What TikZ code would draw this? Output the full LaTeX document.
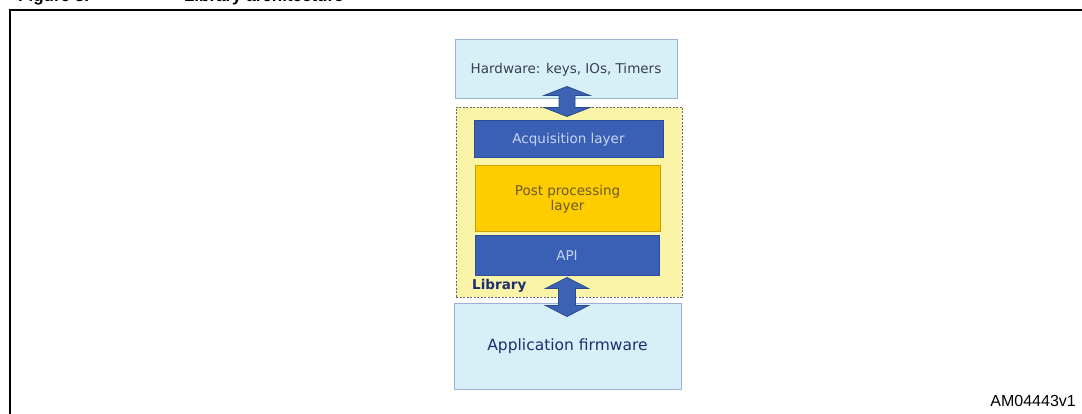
\documentclass[tikz,border=0pt]{standalone}
\usepackage{fontspec}
\setmainfont{DejaVu Sans}
\newfontfamily\arial{Liberation Sans}
\usetikzlibrary{calc}
\definecolor{hwfill}{HTML}{D7EFF7}
\definecolor{hwdraw}{HTML}{9AB3CE}
\definecolor{libfill}{HTML}{FAF4A8}
\definecolor{libdraw}{HTML}{6A6A6A}
\definecolor{layblue}{HTML}{3A60B5}
\definecolor{layedge}{HTML}{2D4D98}
\definecolor{laytext}{HTML}{C5D3F0}
\definecolor{gold}{HTML}{FFCC00}
\definecolor{goldedge}{HTML}{C9A100}
\definecolor{posttext}{HTML}{6B5A2A}
\definecolor{navy}{HTML}{1E2D6E}
\definecolor{hwtext}{HTML}{3A3F55}
\definecolor{arrfill}{HTML}{3C62B4}
\definecolor{arredge}{HTML}{2B4A90}
\tikzset{
  outerbox/.style={draw=hwdraw, fill=hwfill, line width=1pt, inner sep=0pt, align=center},
  libbox/.style={draw=libdraw, fill=libfill, dashed, dash pattern=on 2pt off 1.5pt, line width=0.8pt, inner sep=0pt},
  bluelayer/.style={draw=layedge, fill=layblue, line width=1pt, inner sep=0pt, text=laytext, font=\fontsize{13.5}{15}\selectfont},
  goldlayer/.style={draw=goldedge, fill=gold, line width=1pt, inner sep=0pt, text=posttext, align=center, font=\fontsize{13.5}{15}\selectfont},
  dblarrow/.style={draw=arredge, fill=arrfill, line width=0.8pt, line join=miter},
}
\begin{document}
\begin{tikzpicture}[x=1pt, y=-1pt]
\useasboundingbox (0,0) rectangle (1082,414);
\clip (0,0) rectangle (1082,414);
\fill[white] (0,0) rectangle (1082,414);
% title (cut off at top, as in the reference)
\node[anchor=base west, inner sep=0pt, font=\arial\bfseries\fontsize{17}{20}\selectfont] (title) at (18,1.5) {Figure 3.\hspace{95pt}Library architecture};
% frame
\draw[line width=2pt] (10,10) rectangle (1100,430);
% boxes
\node[outerbox, minimum width=222, minimum height=59, text=hwtext, font=\fontsize{13.5}{15}\selectfont] (hw) at (566,69.5) {Hardware: keys, IOs, Timers};
\node[libbox, minimum width=226, minimum height=190] (lib) at (569,202) {};
\node[bluelayer, minimum width=189, minimum height=37] (acq) at (568.5,139.5) {Acquisition layer};
\node[goldlayer, minimum width=185, minimum height=66] (post) at (567.5,199) {Post processing\\layer};
\node[bluelayer, minimum width=184, minimum height=40] (api) at (567,256) {API};
\node[anchor=base west, inner sep=0pt, text=navy, font=\bfseries\fontsize{13.5}{15}\selectfont] (libl) at (472,290) {Library};
\node[outerbox, minimum width=227, minimum height=86, text=navy, font=\fontsize{15.5}{18}\selectfont] (app) at (567.5,346) {Application firmware};
\node[anchor=base east, inner sep=0pt, font=\arial\fontsize{16}{19}\selectfont] (ref) at (1076,406) {AM04443v1};
% arrows
\coordinate (t1) at ($(hw.south)+(1,-13)$);
\coordinate (b1) at ($(t1 |- acq.north)+(0,-4)$);
\draw[dblarrow] (t1) -- ($(t1)+(23,9)$) -- ($(t1)+(8,9)$) -- ($(b1)+(8,-9)$) -- ($(b1)+(23,-9)$) -- (b1) -- ($(b1)+(-23,-9)$) -- ($(b1)+(-8,-9)$) -- ($(t1)+(-8,9)$) -- ($(t1)+(-23,9)$) -- cycle;
\coordinate (t2) at ($(api.south)+(0,1)$);
\coordinate (b2) at ($(t2 |- app.north)+(0,14)$);
\draw[dblarrow] (t2) -- ($(t2)+(21.5,11)$) -- ($(t2)+(8.5,11)$) -- ($(b2)+(8.5,-11)$) -- ($(b2)+(21.5,-11)$) -- (b2) -- ($(b2)+(-21.5,-11)$) -- ($(b2)+(-8.5,-11)$) -- ($(t2)+(-8.5,11)$) -- ($(t2)+(-21.5,11)$) -- cycle;
\end{tikzpicture}
\end{document}
